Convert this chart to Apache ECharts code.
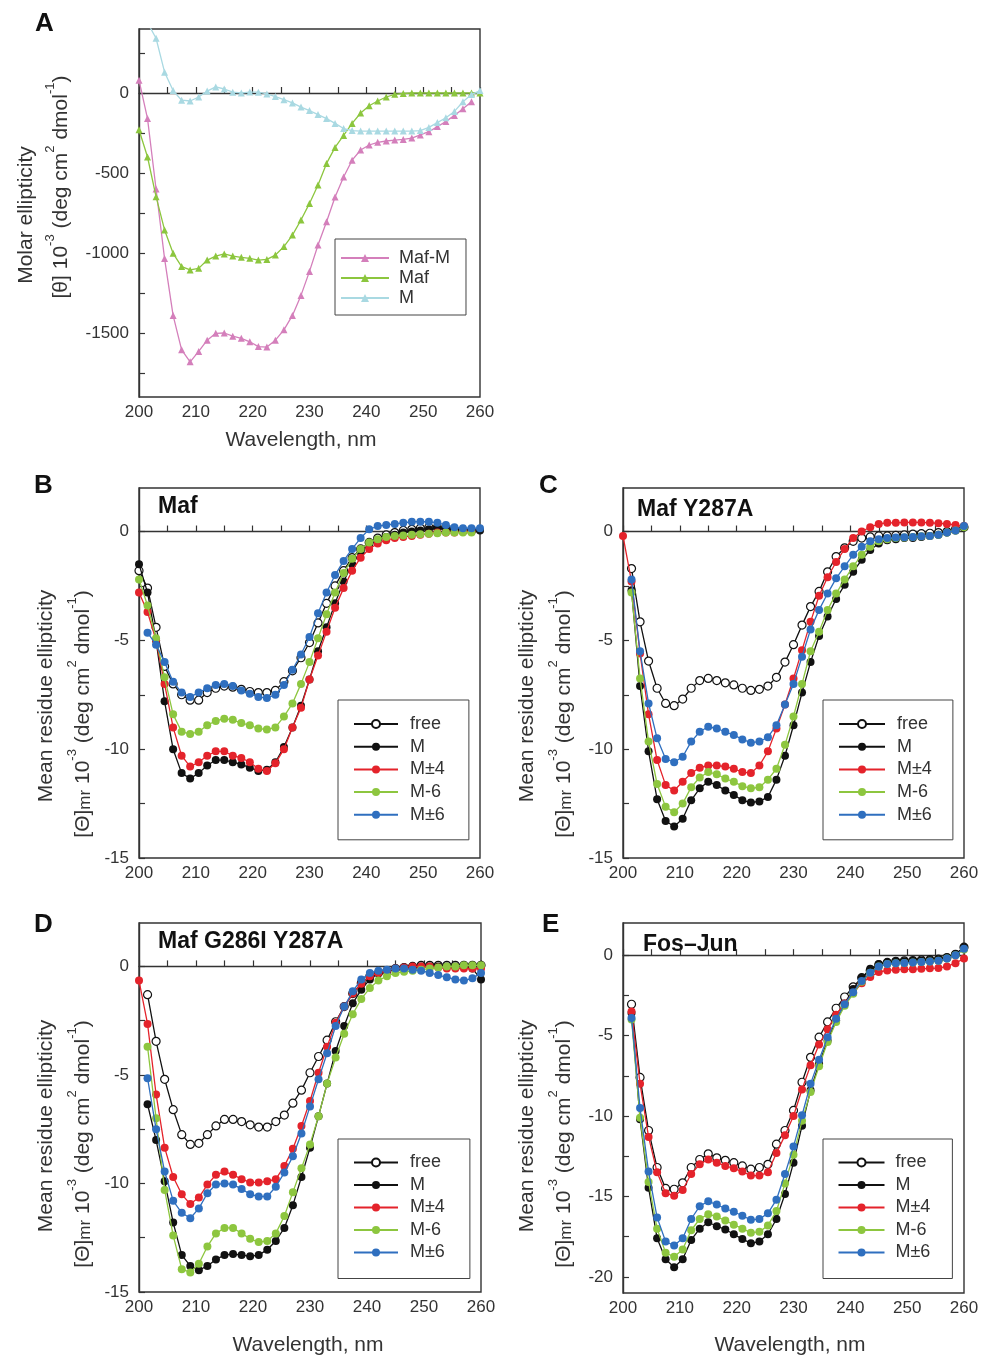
<!DOCTYPE html>
<html>
<head>
<meta charset="utf-8">
<script src="https://cdn.jsdelivr.net/npm/echarts@6.0.0/dist/echarts.min.js"></script>
<style>
  body { margin: 0; background: #fff; }
  .panel { position: absolute; }
</style>
</head>
<body>
<div id="pA" class="panel" style="left:0;top:0;width:500px;height:460px"></div>
<div id="pC" class="panel" style="left:490px;top:460px;width:491px;height:440px"></div>
<div id="pE" class="panel" style="left:490px;top:900px;width:491px;height:457px"></div>
<div id="pB" class="panel" style="left:0;top:460px;width:505px;height:440px"></div>
<div id="pD" class="panel" style="left:0;top:900px;width:505px;height:457px"></div>
<script>
const FONT = 'Liberation Sans, Arial, sans-serif';

// wavelength grid (nm) shared by all panels
const wavelength = [200, 201.5, 203, 204.5, 206, 207.5, 209, 210.5, 212, 213.5, 215, 216.5, 218, 219.5, 221, 222.5,
  224, 225.5, 227, 228.5, 230, 231.5, 233, 234.5, 236, 237.5, 239, 240.5, 242, 243.5, 245, 246.5, 248, 249.5,
  251, 252.5, 254, 255.5, 257, 258.5, 260];
const xTicks = [200, 210, 220, 230, 240, 250, 260];

// panel A: molar ellipticity
const aMafM = [80, -160, -600, -1035, -1390, -1605, -1680, -1615, -1545, -1502, -1500, -1520, -1533, -1555, -1585, -1588,
  -1545, -1480, -1390, -1265, -1115, -950, -805, -650, -525, -420, -356, -325, -308, -300, -294, -290, -282, -262,
  -242, -210, -178, -140, -98, -55, null];
const aMaf = [-230, -400, -648, -856, -1002, -1085, -1106, -1096, -1044, -1019, -1006, -1019, -1027, -1033, -1044, -1040,
  -1013, -960, -888, -794, -690, -575, -440, -340, -265, -190, -125, -80, -50, -25, -8, -3, 0, 0, 0, 0, 0, 0, 0, 0, 0];
const aM = [null, 440, 342, 130, 15, -45, -50, -25, 12, 38, 25, 5, 0, 6, 5, -6, -22, -42, -62, -88, -110, -135, -160,
  -190, -222, -235, -238, -238, -238, -238, -238, -238, -238, -235, -215, -185, -155, -115, -55, -10, 15];
const aTicks = [-1750, -1500, -1250, -1000, -750, -500, -250, 0, 250];
const aLabels = [-1500, -1000, -500, 0];

// panel B: Maf
const bFree = [-1.8, -2.6, -4.4, -6.2, -7.0, -7.5, -7.75, -7.75, -7.4, -7.2, -7.1, -7.15, -7.25, -7.35, -7.4, -7.4, -7.3,
  -6.9, -6.4, -5.8, -5.1, -4.2, -3.3, -2.5, -1.8, -1.2, -0.8, -0.5, -0.3, -0.15, -0.05, 0.05, 0.1, 0.15, 0.2, 0.2, 0.15,
  0.1, 0.05, 0.05, null];
const bM = [-1.5, -2.8, -5.0, -7.8, -10.0, -11.1, -11.35, -11.1, -10.75, -10.5, -10.5, -10.6, -10.7, -10.85, -11.0, -10.95,
  -10.6, -9.9, -9.0, -8.0, -6.8, -5.5, -4.4, -3.3, -2.3, -1.5, -0.95, -0.6, -0.4, -0.25, -0.15, -0.05, 0, 0.05, 0.1,
  0.15, 0.1, 0.05, 0, 0, 0.05];
const bM4 = [-2.8, -3.7, -5.0, -7.0, -9.0, -10.3, -10.8, -10.6, -10.3, -10.1, -10.1, -10.3, -10.4, -10.6, -10.9, -11.0,
  -10.65, -10.0, -9.0, -8.1, -6.8, -5.7, -4.6, -3.5, -2.6, -1.8, -1.2, -0.8, -0.55, -0.4, -0.3, -0.25, -0.2, -0.15,
  -0.1, -0.05, -0.05, -0.05, 0, 0, null];
const bM6minus = [-2.2, -3.4, -4.9, -6.7, -8.4, -9.2, -9.3, -9.2, -8.9, -8.7, -8.6, -8.65, -8.8, -8.9, -9.05, -9.1, -9.0,
  -8.5, -7.9, -7.0, -6.0, -4.9, -3.8, -2.8, -1.9, -1.25, -0.8, -0.5, -0.35, -0.25, -0.2, -0.18, -0.15, -0.12, -0.1,
  -0.08, -0.05, -0.05, -0.05, -0.05, null];
const bM6 = [null, -4.65, -5.2, -6.0, -6.9, -7.4, -7.6, -7.4, -7.2, -7.05, -7.0, -7.1, -7.3, -7.45, -7.6, -7.65, -7.5,
  -7.05, -6.35, -5.65, -4.85, -3.75, -2.8, -2.0, -1.35, -0.8, -0.3, 0.1, 0.25, 0.3, 0.35, 0.4, 0.45, 0.45, 0.45, 0.4,
  0.3, 0.2, 0.15, 0.15, 0.15];

// panel C: Maf Y287A
const cFree = [null, -1.7, -4.15, -5.95, -7.2, -7.9, -8.0, -7.7, -7.2, -6.85, -6.75, -6.85, -6.95, -7.05, -7.2, -7.3,
  -7.25, -7.1, -6.7, -6.0, -5.2, -4.3, -3.45, -2.75, -1.85, -1.15, -0.75, -0.45, -0.3, -0.25, -0.2, -0.2, -0.18, -0.15,
  -0.12, -0.1, -0.08, -0.05, 0, 0.1, 0.2];
const cM = [null, -2.7, -7.1, -10.1, -12.3, -13.3, -13.55, -13.2, -12.35, -11.8, -11.5, -11.65, -11.9, -12.1, -12.35,
  -12.45, -12.4, -12.2, -11.4, -10.3, -8.9, -7.4, -6.0, -4.8, -3.9, -3.1, -2.45, -1.85, -1.3, -0.85, -0.55, -0.4,
  -0.35, -0.3, -0.3, -0.25, -0.2, -0.15, -0.05, 0.05, 0.2];
const cM4 = [-0.2, -2.3, -5.6, -8.4, -10.5, -11.65, -11.9, -11.5, -11.1, -10.85, -10.75, -10.75, -10.8, -10.9, -11.05,
  -11.1, -10.75, -10.1, -9.05, -7.95, -6.75, -5.45, -4.15, -2.95, -2.1, -1.4, -0.8, -0.3, 0.0, 0.2, 0.35, 0.4, 0.4,
  0.42, 0.42, 0.42, 0.4, 0.38, 0.35, 0.3, 0.25];
const cM6minus = [null, -2.8, -6.75, -9.65, -11.6, -12.65, -12.9, -12.5, -11.75, -11.3, -11.05, -11.15, -11.35, -11.5,
  -11.7, -11.8, -11.75, -11.4, -10.9, -9.8, -8.5, -7.0, -5.5, -4.6, -3.6, -2.85, -2.2, -1.6, -1.07, -0.7, -0.45, -0.35,
  -0.3, -0.28, -0.25, -0.22, -0.2, -0.15, -0.05, 0.05, 0.2];
const cM6 = [null, -2.2, -5.5, -7.9, -9.5, -10.45, -10.6, -10.35, -9.65, -9.2, -8.97, -9.05, -9.2, -9.35, -9.55, -9.7,
  -9.65, -9.45, -8.9, -7.95, -7.0, -5.75, -4.5, -3.6, -2.85, -2.15, -1.6, -1.07, -0.7, -0.45, -0.35, -0.3, -0.28, -0.26,
  -0.25, -0.22, -0.2, -0.15, -0.05, 0.05, 0.25];

// panel D: Maf G286I Y287A
const dFree = [null, -1.3, -3.45, -5.2, -6.6, -7.75, -8.2, -8.15, -7.75, -7.35, -7.05, -7.05, -7.15, -7.3, -7.4, -7.4,
  -7.15, -6.85, -6.3, -5.7, -4.9, -4.15, -3.4, -2.55, -1.85, -1.25, -0.77, -0.45, -0.3, -0.2, -0.1, -0.05, 0, 0.05,
  0.05, 0.05, 0.05, 0.05, 0.05, 0.05, 0.05];
const dM = [null, -6.35, -8.0, -9.9, -11.8, -13.3, -13.8, -14.0, -13.8, -13.5, -13.3, -13.25, -13.3, -13.35, -13.3,
  -13.05, -12.65, -12.05, -11.0, -9.7, -8.35, -6.9, -5.4, -3.9, -2.75, -1.7, -1.07, -0.6, -0.3, -0.2, -0.1, -0.05, 0,
  0, 0, 0, 0, 0, 0, -0.1, -0.6];
const dM4 = [-0.65, -2.65, -5.9, -8.35, -9.7, -10.5, -10.95, -10.65, -10.05, -9.6, -9.45, -9.6, -9.8, -9.95, -9.95, -9.9,
  -9.8, -9.2, -8.4, -7.35, -6.2, -4.9, -3.7, -2.6, -1.85, -1.25, -0.8, -0.45, -0.3, -0.2, -0.1, -0.05, 0, 0, 0, -0.05,
  -0.1, -0.1, -0.1, -0.1, -0.1];
const dM6minus = [null, -3.7, -7.0, -10.3, -12.4, -13.95, -14.1, -13.7, -12.9, -12.3, -12.05, -12.05, -12.3, -12.55,
  -12.7, -12.65, -12.3, -11.5, -10.4, -9.3, -8.2, -6.9, -5.4, -4.2, -3.1, -2.2, -1.5, -1.0, -0.65, -0.45, -0.3, -0.25,
  -0.2, -0.15, -0.1, -0.05, 0, 0, 0.05, 0.05, 0.05];
const dM6 = [null, -5.15, -7.5, -9.45, -10.8, -11.35, -11.6, -11.15, -10.45, -10.05, -10.0, -10.05, -10.25, -10.5, -10.6,
  -10.6, -10.15, -9.5, -8.75, -7.7, -6.45, -5.2, -4.0, -2.75, -1.85, -1.15, -0.6, -0.3, -0.2, -0.15, -0.1, -0.1,
  -0.15, -0.2, -0.3, -0.4, -0.5, -0.6, -0.65, -0.55, -0.3];

// panel E: Fos-Jun
const eFree = [null, -3.05, -7.6, -10.9, -13.2, -14.5, -14.55, -14.15, -13.2, -12.7, -12.35, -12.6, -12.75, -12.9, -13.1,
  -13.3, -13.2, -13.0, -11.75, -10.9, -9.65, -7.9, -6.35, -5.1, -4.15, -3.3, -2.6, -1.97, -1.4, -0.95, -0.6, -0.45,
  -0.38, -0.35, -0.33, -0.3, -0.28, -0.25, -0.15, 0.05, 0.5];
const eM = [null, -3.6, -10.2, -14.45, -17.6, -18.9, -19.4, -18.9, -17.7, -17.0, -16.6, -16.85, -17.05, -17.35, -17.65,
  -17.9, -17.8, -17.35, -16.4, -14.85, -12.9, -10.6, -8.4, -6.75, -5.3, -4.05, -3.0, -2.1, -1.4, -0.85, -0.55, -0.45,
  -0.4, -0.38, -0.35, -0.33, -0.3, -0.25, -0.15, 0.05, 0.5];
const eM4 = [null, -3.5, -8.0, -11.3, -13.5, -14.8, -14.95, -14.6, -13.6, -13.0, -12.7, -12.9, -13.1, -13.25, -13.45,
  -13.7, -13.7, -13.5, -12.3, -11.2, -10.0, -8.35, -6.85, -5.55, -4.6, -3.7, -3.0, -2.35, -1.75, -1.35, -1.05, -0.95,
  -0.9, -0.88, -0.87, -0.85, -0.82, -0.8, -0.7, -0.5, -0.2];
const eM6minus = [null, -4.0, -10.1, -14.1, -17.0, -18.5, -18.75, -18.3, -17.1, -16.4, -16.1, -16.25, -16.5, -16.75,
  -17.0, -17.25, -17.2, -16.8, -15.9, -14.2, -12.4, -10.3, -8.5, -6.9, -5.4, -4.15, -3.15, -2.4, -1.65, -1.1, -0.7,
  -0.55, -0.5, -0.48, -0.45, -0.43, -0.4, -0.35, -0.2, 0.0, 0.35];
const eM6 = [null, -3.9, -9.5, -13.45, -16.3, -17.8, -18.05, -17.6, -16.4, -15.6, -15.3, -15.5, -15.75, -15.95, -16.2,
  -16.45, -16.4, -16.05, -15.2, -13.6, -11.9, -9.95, -8.0, -6.5, -5.1, -3.95, -3.05, -2.3, -1.6, -1.1, -0.7, -0.55,
  -0.5, -0.48, -0.45, -0.43, -0.4, -0.35, -0.2, 0.0, 0.4];

const mrTicks = [-15, -12.5, -10, -7.5, -5, -2.5, 0];
const mrLabels = [-15, -10, -5, 0];
const eTicks = [-20, -17.5, -15, -12.5, -10, -7.5, -5, -2.5, 0];
const eLabels = [-20, -15, -10, -5, 0];

const variantNames = ['free', 'M', 'M±4', 'M-6', 'M±6'];
const variantColors = ['#111', '#111', '#e4232b', '#8dc63f', '#2f6fbf'];

const supRich = {
  sup: { fontSize: 13, fontFamily: FONT, verticalAlign: 'top', lineHeight: 14, fill: '#333' },
  sub: { fontSize: 17, fontFamily: FONT, verticalAlign: 'bottom', lineHeight: 17, fill: '#333' },
  n: { fontSize: 21, fontFamily: FONT, verticalAlign: 'bottom', lineHeight: 28, fill: '#333' }
};

function vText(x, y, text, rich) {
  return {
    type: 'text', x: x, y: y, rotation: Math.PI / 2, silent: true,
    style: {
      text: text, rich: rich ? supRich : undefined,
      fontSize: 21, fontFamily: FONT, fill: '#333',
      align: 'center', verticalAlign: 'middle', textAlign: 'center', textVerticalAlign: 'middle'
    }
  };
}

function hText(x, y, text, size, bold, align) {
  return {
    type: 'text', x: x, y: y, silent: true,
    style: {
      text: text, fontSize: size, fontFamily: FONT, fontWeight: bold ? 'bold' : 'normal',
      fill: bold ? '#111' : '#333',
      align: align || 'left', verticalAlign: 'middle',
      textAlign: align || 'left', textVerticalAlign: 'middle'
    }
  };
}

function makePanel(id, p) {
  const chart = echarts.init(document.getElementById(id));
  const series = p.series.map((s, i) => ({
    name: s.name,
    type: 'line',
    data: wavelength.map((w, k) => [w, s.values[k]]),
    symbol: p.symbol,
    symbolSize: p.symbolSize,
    clip: true,
    silent: true,
    z: 2 + i,
    lineStyle: { color: s.color, width: 1.3 },
    itemStyle: s.open
      ? { color: '#fff', borderColor: s.color, borderWidth: 1.2 }
      : { color: s.color, borderWidth: 0 },
    emphasis: { disabled: true }
  }));

  const option = {
    animation: false,
    grid: {
      left: p.grid[0], top: p.grid[1], width: p.grid[2], height: p.grid[3],
      outerBoundsMode: 'none', containLabel: false,
      show: true, borderColor: '#333', borderWidth: 1.4, backgroundColor: 'transparent'
    },
    xAxis: {
      type: 'value', min: 200, max: 260, interval: 5,
      axisLine: { show: true, lineStyle: { color: '#333', width: 1.4 } },
      axisTick: { show: true, inside: true, length: 6, lineStyle: { color: '#333', width: 1.2 } },
      axisLabel: {
        fontSize: 17, fontFamily: FONT, color: '#333', margin: 7,
        formatter: v => (xTicks.indexOf(v) >= 0 ? String(v) : '')
      },
      splitLine: { show: false }
    },
    yAxis: {
      type: 'value', min: p.yMin, max: p.yMax,
      axisLine: { show: true, lineStyle: { color: '#333', width: 1.4 } },
      axisTick: { show: true, inside: true, length: 6, customValues: p.yTicks, lineStyle: { color: '#333', width: 1.2 } },
      axisLabel: {
        fontSize: 17, fontFamily: FONT, color: '#333', margin: 10, customValues: p.yLabels,
        formatter: v => String(v)
      },
      splitLine: { show: false }
    },
    legend: {
      orient: 'vertical', left: p.legend.left, top: p.legend.top,
      padding: p.legend.padding, itemGap: p.legend.gap,
      itemWidth: p.legend.itemWidth, itemHeight: 10,
      borderColor: '#444', borderWidth: 1, selectedMode: false,
      textStyle: { fontSize: 18, fontFamily: FONT, color: '#333', lineHeight: 18, padding: [0, 0, 0, p.legend.textPad] },
      data: p.series.map(s => s.name)
    },
    graphic: p.texts,
    series: series
  };

  option && chart.setOption(option);
}

function variantSeries(arrs) {
  return arrs.map((values, i) => ({
    name: variantNames[i], values: values, color: variantColors[i], open: i === 0
  }));
}

const yLine2 = '{n|[Θ]}{sub|mr}{n| 10}{sup|-3}{n| (deg cm}{sup|2}{n| dmol}{sup|-1}{n|)}';

makePanel('pA', {
  grid: [139, 29, 341, 368], yMin: -1900, yMax: 400, yTicks: aTicks, yLabels: aLabels,
  symbol: 'triangle', symbolSize: 7,
  series: [
    { name: 'Maf-M', values: aMafM, color: '#d47fbb' },
    { name: 'Maf', values: aMaf, color: '#8cc63e' },
    { name: 'M', values: aM, color: '#a9d9e2' }
  ],
  legend: { left: 335, top: 239, padding: [10, 16, 8, 5], gap: 2, itemWidth: 48, textPad: 5 },
  texts: [
    hText(35, 24, 'A', 26, true),
    vText(26, 215, 'Molar ellipticity'),
    vText(58, 187, '{n|[θ] 10}{sup|-3}{n| (deg cm}{sup|2}{n| dmol}{sup|-1}{n|)}', true),
    hText(301, 440, 'Wavelength, nm', 21, false, 'center')
  ]
});

makePanel('pC', {
  grid: [133, 28, 341, 370], yMin: -15, yMax: 2, yTicks: mrTicks, yLabels: mrLabels,
  symbol: 'circle', symbolSize: 8,
  series: variantSeries([cFree, cM, cM4, cM6minus, cM6]),
  legend: { left: 333, top: 240, padding: [15, 21, 16, 15], gap: 4.7, itemWidth: 46, textPad: 7 },
  texts: [
    hText(49, 26, 'C', 26, true),
    hText(147, 50, 'Maf Y287A', 23, true),
    vText(37, 236, 'Mean residue ellipticity'),
    vText(71, 254, yLine2, true)
  ]
});

makePanel('pE', {
  grid: [133, 23, 341, 370], yMin: -21, yMax: 2, yTicks: eTicks, yLabels: eLabels,
  symbol: 'circle', symbolSize: 8,
  series: variantSeries([eFree, eM, eM4, eM6minus, eM6]),
  legend: { left: 333, top: 239, padding: [14.5, 22, 17, 14.5], gap: 4.5, itemWidth: 46, textPad: 6 },
  texts: [
    hText(52, 25, 'E', 26, true),
    hText(153, 45, 'Fos–Jun', 23, true),
    vText(37, 226, 'Mean residue ellipticity'),
    vText(71, 244, yLine2, true),
    hText(300, 445, 'Wavelength, nm', 21, false, 'center')
  ]
});

makePanel('pB', {
  grid: [139, 28, 341, 370], yMin: -15, yMax: 2, yTicks: mrTicks, yLabels: mrLabels,
  symbol: 'circle', symbolSize: 8,
  series: variantSeries([bFree, bM, bM4, bM6minus, bM6]),
  legend: { left: 338, top: 240, padding: [15, 24, 16, 15], gap: 4.7, itemWidth: 44, textPad: 7 },
  texts: [
    hText(34, 26, 'B', 26, true),
    hText(158, 47, 'Maf', 23, true),
    vText(46, 236, 'Mean residue ellipticity'),
    vText(80, 254, yLine2, true)
  ]
});

makePanel('pD', {
  grid: [139, 23, 342, 369], yMin: -15, yMax: 2, yTicks: mrTicks, yLabels: mrLabels,
  symbol: 'circle', symbolSize: 8,
  series: variantSeries([dFree, dM, dM4, dM6minus, dM6]),
  legend: { left: 338, top: 239, padding: [14.5, 25, 17, 15], gap: 4.5, itemWidth: 44, textPad: 7 },
  texts: [
    hText(34, 25, 'D', 26, true),
    hText(158, 42, 'Maf G286I Y287A', 23, true),
    vText(46, 226, 'Mean residue ellipticity'),
    vText(80, 244, yLine2, true),
    hText(308, 445, 'Wavelength, nm', 21, false, 'center')
  ]
});
</script>
</body>
</html>
